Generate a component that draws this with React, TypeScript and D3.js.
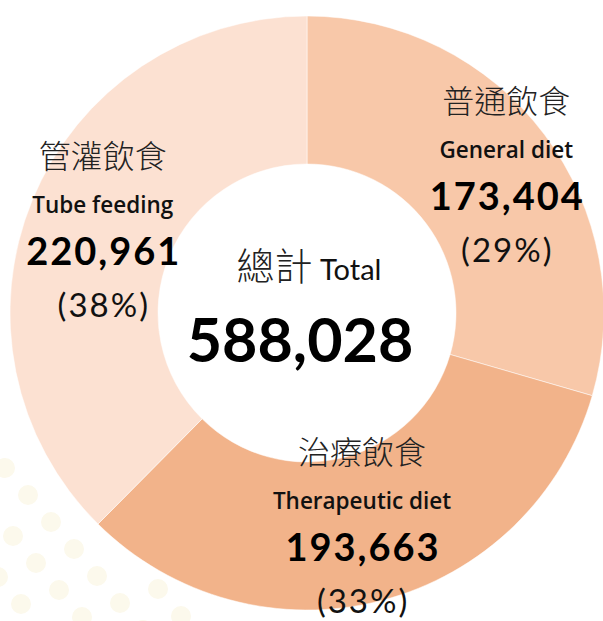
import React from "react";
import * as d3 from "d3";

const categoriesZh = ["普通飲食", "治療飲食", "管灌飲食"];
const categoriesEn = ["General diet", "Therapeutic diet", "Tube feeding"];
const values = [173404, 193663, 220961];
const percentLabels = ["(29%)", "(33%)", "(38%)"];
const totalLabelZh = "總計";
const totalLabelEn = "Total";

const colors = ["#f8c8a9", "#f2b38a", "#fce1d2"];
// label block offsets from each slice centroid
const labelOffsets: [number, number][] = [
  [21, -3],
  [-1, -2],
  [2, 3],
];

const W = 603;
const H = 621;
const cx = 307;
const cy = 313;
const innerR = 149;
const outerR = 297;

const cjk = "'Noto Sans CJK TC', 'Noto Sans CJK SC', sans-serif";
const latin = "Lato, 'Noto Sans', sans-serif";
const latin2 = "'Open Sans', Lato, sans-serif";

function Dots() {
  // faint decorative halftone dots in the lower-left corner
  const dots: { x: number; y: number }[] = [];
  for (let i = -6; i < 12; i++) {
    for (let j = -6; j < 8; j++) {
      const x = 5 + i * 23 + j * -15;
      const y = 468 + i * 27 + j * 41;
      if (x < -12 || y > H + 12 || x > 230 || y < 440) continue;
      const dx = x - cx;
      const dy = y - cy;
      if (Math.sqrt(dx * dx + dy * dy) < outerR + 8) continue;
      dots.push({ x, y });
    }
  }
  return (
    <g>
      {dots.map((p, k) => (
        <circle key={k} cx={p.x} cy={p.y} r={10} fill="#fcf9ec" />
      ))}
    </g>
  );
}

export default function App() {
  const total = d3.sum(values);
  const pie = d3
    .pie<number>()
    .sort(null)
    .startAngle(0)
    .endAngle(2 * Math.PI)
    .value((d) => d);
  const arcs = pie(values);
  const arcGen = d3
    .arc<d3.PieArcDatum<number>>()
    .innerRadius(innerR)
    .outerRadius(outerR);
  const fmt = d3.format(",");

  return (
    <svg
      width={W}
      height={H}
      style={{ position: "absolute", left: 0, top: 0, background: "#fff" }}
    >
      <Dots />
      <g transform={`translate(${cx},${cy})`}>
        {arcs.map((a, i) => (
          <path
            key={i}
            d={arcGen(a) || ""}
            fill={colors[i]}
            stroke="#fff"
            strokeOpacity={0.5}
            strokeWidth={1}
          />
        ))}
        {arcs.map((a, i) => {
          const [px, py] = arcGen.centroid(a);
          const x = px + labelOffsets[i][0];
          const y = py + labelOffsets[i][1];
          return (
            <g key={"l" + i} transform={`translate(${x},${y})`} textAnchor="middle">
              <text y={-63} fontFamily={cjk} fontWeight={300} fontSize={32} fill="#222">
                {categoriesZh[i]}
              </text>
              <text y={-18} fontFamily={latin2} fontWeight={600} fontSize={22.5} fill="#111">
                {categoriesEn[i]}
              </text>
              <text
                y={34}
                x={1}
                fontFamily={latin}
                fontWeight={700}
                fontSize={38}
                letterSpacing={2}
                fill="#000"
              >
                {fmt(values[i])}
              </text>
              <text
                y={86}
                x={1}
                fontFamily={latin}
                fontWeight={400}
                fontSize={33}
                letterSpacing={2}
                fill="#111"
              >
                {percentLabels[i]}
              </text>
            </g>
          );
        })}
        <g textAnchor="middle">
          <text x={2} y={-33}>
            <tspan fontFamily={cjk} fontWeight={300} fontSize={38} fill="#222">
              {totalLabelZh}
            </tspan>
            <tspan fontFamily={latin} fontWeight={400} fontSize={29} fill="#111">
              {" " + totalLabelEn}
            </tspan>
          </text>
          <text x={-7} y={49} fontFamily={latin} fontWeight={700} fontSize={61} fill="#000">
            {fmt(total)}
          </text>
        </g>
      </g>
    </svg>
  );
}
